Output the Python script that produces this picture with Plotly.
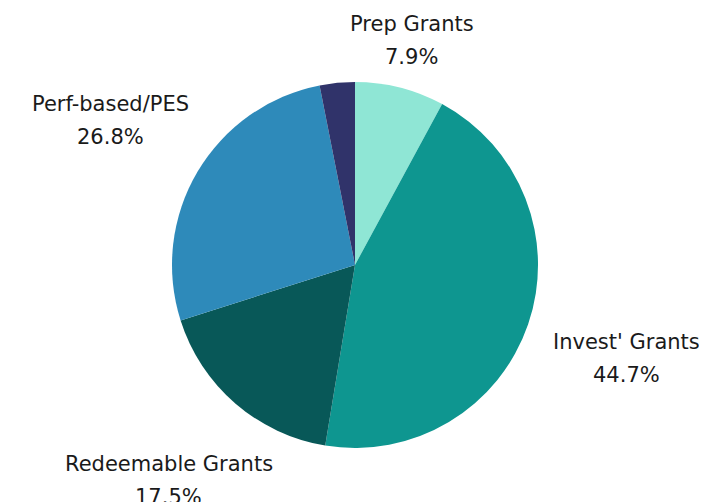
import math
import plotly.graph_objects as go

labels = ["Prep Grants", "Invest' Grants", "Redeemable Grants", "Perf-based/PES", "Other"]
values = [7.9, 44.7, 17.5, 26.8, 3.1]
colors = ["#8fe6d5", "#0e9690", "#085858", "#2e8aba", "#30336a"]
show_label = [True, True, True, True, False]

# the page body adds an 8px margin, so work in a figure that is 8px smaller
OFF = 8
W, H = 707 - OFF, 502 - OFF
CX, CY, R = 355 - OFF, 265 - OFF, 183  # pie centre / radius in figure pixels

fig = go.Figure(go.Pie(
    labels=labels,
    values=values,
    sort=False,
    direction="clockwise",
    rotation=0,
    marker=dict(colors=colors, line=dict(width=0)),
    textinfo="none",
    showlegend=False,
    hoverinfo="label+percent",
    domain=dict(x=[(CX - R - 40) / W, (CX + R + 40) / W],
                y=[1 - (CY + R) / H, 1 - (CY - R) / H]),
))

# outside labels: put each text box just outside the slice's mid-angle
total = sum(values)
font = dict(family="DejaVu Sans", size=21, color="#1a1a1a")
char_w, half_h, gap = 13.9, 28, 3
cum = 0
annotations = []
for lab, v, show in zip(labels, values, show_label):
    mid = (cum + v / 2) / total * 2 * math.pi
    cum += v
    if not show:
        continue
    sx, sy = math.sin(mid), -math.cos(mid)
    half_w = len(lab) * char_w / 2
    dist = R + gap + half_w * abs(sx) + half_h * abs(sy)
    px, py = CX + dist * sx, CY + dist * sy
    for txt, off in ((lab, -16.5), (f"{v / total * 100:.1f}%", 16.5)):
        annotations.append(dict(
            x=px / W, y=1 - (py + off) / H, xref="paper", yref="paper",
            text=txt, showarrow=False, font=font,
            xanchor="center", yanchor="middle",
        ))

fig.update_layout(
    width=W,
    height=H,
    margin=dict(l=0, r=0, t=0, b=0),
    paper_bgcolor="white",
    plot_bgcolor="white",
    annotations=annotations,
)

fig.write_html("out.html")
